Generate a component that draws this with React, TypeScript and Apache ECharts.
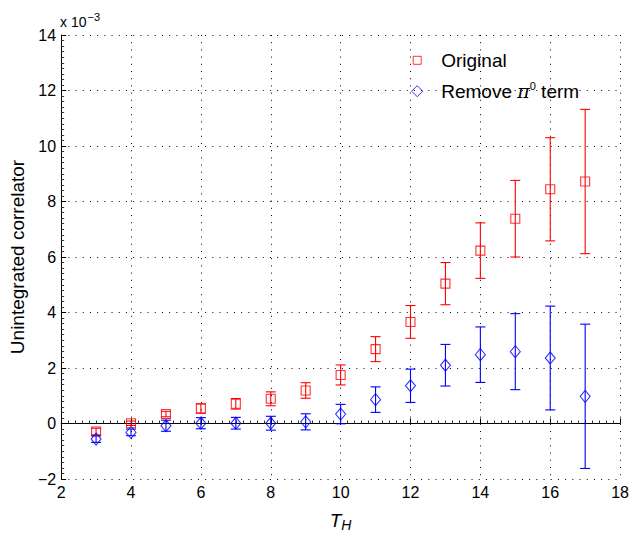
import React, { useEffect, useRef } from "react";
import * as echarts from "echarts";

const thValues = [3, 4, 5, 6, 7, 8, 9, 10, 11, 12, 13, 14, 15, 16, 17];
const originalValues = [-0.29, 0.01, 0.34, 0.54, 0.71, 0.89, 1.19, 1.75, 2.68, 3.66, 5.04, 6.23, 7.38, 8.44, 8.72];
const originalErrors = [0.12, 0.08, 0.1, 0.17, 0.19, 0.25, 0.28, 0.36, 0.45, 0.59, 0.76, 1.0, 1.38, 1.86, 2.6];
const removedValues = [-0.56, -0.32, -0.08, 0.01, 0.01, 0.01, 0.06, 0.34, 0.86, 1.36, 2.1, 2.48, 2.59, 2.36, 0.98];
const removedErrors = [0.12, 0.12, 0.2, 0.2, 0.21, 0.25, 0.29, 0.35, 0.46, 0.6, 0.75, 1.0, 1.37, 1.87, 2.6];

const xRange = [2, 18];
const yRange = [-2, 14];
const tickStep = 2;
const seriesNames = ["Original", "Remove π0 term"];
const seriesColors = ["#ff0000", "#0000ff"];
const yAxisTitle = "Unintegrated correlator";
const scaleBase = "x 10";
const scaleExponent = "−3";

const FONT = "'Liberation Sans', Arial, Helvetica, sans-serif";

function errorData(values: number[], errs: number[]) {
  return thValues.map((x, i) => [x, values[i] - errs[i], values[i] + errs[i]]);
}

function makeErrorRender(color: string) {
  return (params: any, api: any) => {
    const x = api.value(0);
    const lo = api.value(1);
    const hi = api.value(2);
    const top = api.coord([x, hi]);
    const bot = api.coord([x, lo]);
    const hw = 5;
    const style = { stroke: color, lineWidth: 1.1, fill: "none" };
    return {
      type: "group",
      children: [
        { type: "line", shape: { x1: top[0], y1: top[1], x2: bot[0], y2: bot[1] }, style },
        { type: "line", shape: { x1: top[0] - hw, y1: top[1], x2: top[0] + hw, y2: top[1] }, style },
        { type: "line", shape: { x1: bot[0] - hw, y1: bot[1], x2: bot[0] + hw, y2: bot[1] }, style },
      ],
    };
  };
}

export default function App() {
  const ref = useRef<HTMLDivElement>(null);
  useEffect(() => {
    if (!ref.current) return;
    const chart = echarts.init(ref.current, undefined, { renderer: "svg" });
    const axisCommon = {
      axisLine: { show: true, lineStyle: { color: "#000", width: 1 } },
      axisTick: { show: true, inside: true, length: 5, lineStyle: { color: "#000" } },
      minorTick: { show: true, splitNumber: 10, length: 3, lineStyle: { color: "#333" } },
      splitLine: { show: true, lineStyle: { color: "#000", width: 1, type: [1, 6.2] } },
      axisLabel: { color: "#000", fontSize: 16, fontFamily: FONT, margin: 5 },
    };
    const option: any = {
      animation: false,
      backgroundColor: "#fff",
      grid: { left: 59.5, right: 8, top: 35, bottom: 57.5, containLabel: false },
      xAxis: {
        type: "value",
        min: xRange[0],
        max: xRange[1],
        interval: tickStep,
        ...axisCommon,
        name: "{t|T}{h|H}",
        nameLocation: "middle",
        nameGap: 29,
        nameTextStyle: {
          rich: {
            t: { fontSize: 19, fontStyle: "italic", fontFamily: FONT, color: "#000", lineHeight: 24 },
            h: { fontSize: 14, fontStyle: "italic", fontFamily: FONT, color: "#000", lineHeight: 10, verticalAlign: "bottom" },
          },
        },
      },
      yAxis: {
        type: "value",
        min: yRange[0],
        max: yRange[1],
        interval: tickStep,
        ...axisCommon,
        axisLabel: {
          ...axisCommon.axisLabel,
          formatter: (v: number) => (v < 0 ? "\u2212" + Math.abs(v) : String(v)),
        },
        name: yAxisTitle,
        nameLocation: "middle",
        nameGap: 31,
        nameTextStyle: { fontSize: 19, fontFamily: FONT, color: "#000" },
      },
      legend: {
        orient: "vertical",
        left: 411.2,
        top: 50.8,
        padding: 0,
        itemGap: 10.4,
        itemWidth: 38,
        itemHeight: 11,
        symbolKeepAspect: true,
        selectedMode: false,
        data: [
          {
            name: seriesNames[0],
            icon: "path://M-1.5,-1.5M0,0L8,0L8,8L0,8ZM9.5,9.5",
            itemStyle: { color: "transparent", borderColor: seriesColors[0], borderWidth: 1 },
          },
          {
            name: seriesNames[1],
            icon: "path://M5.5,0L11,5.5L5.5,11L0,5.5Z",
            itemStyle: { color: "transparent", borderColor: seriesColors[1], borderWidth: 1 },
          },
        ],
        formatter: (name: string) =>
          name === seriesNames[1] ? "{n|Remove }{p|π}{s|0}{n| term}" : "{n|" + name + "}",
        textStyle: {
          fontSize: 19,
          fontFamily: FONT,
          color: "#000",
          rich: {
            n: { fontSize: 19, fontFamily: FONT, color: "#000", lineHeight: 22 },
            p: { fontSize: 19, fontFamily: "'DejaVu Serif', serif", fontStyle: "italic", color: "#000", lineHeight: 22 },
            s: { fontSize: 11, fontFamily: FONT, color: "#000", lineHeight: 6, verticalAlign: "top" },
          },
        },
      },
      graphic: [
        {
          type: "text",
          left: 60,
          top: 11.7,
          style: {
            text: "{a|" + scaleBase + "}{b|" + scaleExponent + "}",
            rich: {
              a: { fontSize: 14, fontFamily: FONT, fill: "#000", lineHeight: 20 },
              b: { fontSize: 11, fontFamily: FONT, fill: "#000", lineHeight: 8, verticalAlign: "top", padding: [0, 0, 0, 1] },
            },
          },
        },
      ],
      series: [
        {
          name: seriesNames[0] + " error",
          type: "custom",
          renderItem: makeErrorRender(seriesColors[0]),
          data: errorData(originalValues, originalErrors),
          encode: { x: 0, y: [1, 2] },
          silent: true,
          z: 2,
        },
        {
          name: seriesNames[1] + " error",
          type: "custom",
          renderItem: makeErrorRender(seriesColors[1]),
          data: errorData(removedValues, removedErrors),
          encode: { x: 0, y: [1, 2] },
          silent: true,
          z: 2,
        },
        {
          name: seriesNames[0],
          type: "scatter",
          symbol: "rect",
          symbolSize: 9,
          itemStyle: { color: "transparent", borderColor: seriesColors[0], borderWidth: 1.1 },
          data: thValues.map((x, i) => [x, originalValues[i]]),
          z: 3,
        },
        {
          name: seriesNames[1],
          type: "scatter",
          symbol: "diamond",
          symbolSize: [10, 12],
          itemStyle: { color: "transparent", borderColor: seriesColors[1], borderWidth: 1.1 },
          data: thValues.map((x, i) => [x, removedValues[i]]),
          z: 3,
        },
      ],
    };
    chart.setOption(option);
    return () => chart.dispose();
  }, []);
  return (
    <div
      ref={ref}
      style={{ position: "fixed", left: 0, top: 0, width: 632, height: 537, background: "#fff" }}
    />
  );
}
